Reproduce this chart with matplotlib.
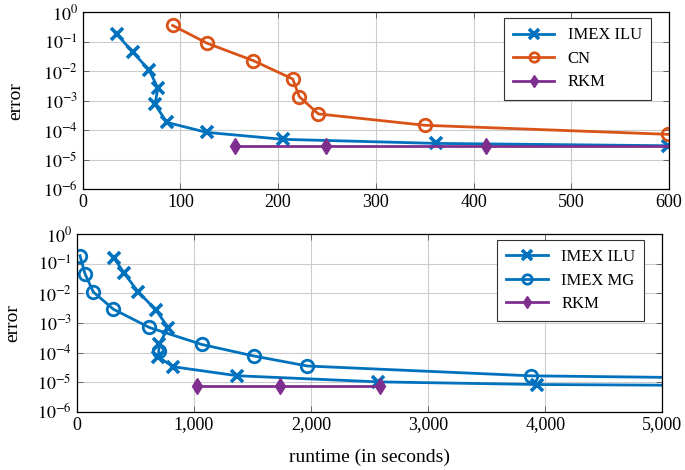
import math
import matplotlib
matplotlib.use("Agg")
import matplotlib.pyplot as plt
from matplotlib.ticker import FixedLocator, FuncFormatter, NullLocator

plt.rcParams['font.family'] = ['Liberation Serif', 'DejaVu Serif']
plt.rcParams['mathtext.fontset'] = 'stix'

BLUE = '#0072BD'
ORANGE = '#D95319'
PURPLE = '#7E2F8E'

# --- top panel data ---
top_ilu_t = [35, 51, 68, 77, 74, 86, 127, 205, 362, 599]
top_ilu_e = [0.18, 0.046, 0.011, 0.0027, 7.6e-4, 1.86e-4, 8.5e-5, 4.95e-5, 3.6e-5, 3.0e-5]
top_cn_t = [92, 127.5, 174.6, 215, 221.7, 241.2, 350.4, 599.4]
top_cn_e = [0.36, 0.089, 0.023, 0.0055, 0.00138, 3.6e-4, 1.48e-4, 7.3e-5]
top_rkm_t = [156, 249, 413, 650]
top_rkm_e = [2.9e-5, 2.9e-5, 2.9e-5, 2.9e-5]

# --- bottom panel data ---
bot_ilu_t = [321, 406, 526, 677, 782, 705, 697, 825, 1371, 2570, 3928, 5200]
bot_ilu_e = [0.15, 0.047, 0.011, 0.0027, 6.8e-4, 2.0e-4, 7.0e-5, 3.3e-5, 1.64e-5, 1.02e-5, 8.3e-6, 7.8e-6]
bot_mg_t = [28, 71, 142, 313, 620, 1067, 1514, 1969, 3879, 5200]
bot_mg_e = [0.185, 0.045, 0.011, 0.0029, 7.0e-4, 1.87e-4, 7.6e-5, 3.5e-5, 1.63e-5, 1.42e-5]
bot_mg_extra_t = [705]
bot_mg_extra_e = [1.14e-4]
bot_rkm_t = [1030, 1736, 2590]
bot_rkm_e = [7.6e-6, 7.6e-6, 7.6e-6]

top_xticks = [0, 100, 200, 300, 400, 500, 600]
bot_xticks = [0, 1000, 2000, 3000, 4000, 5000]
yticks = [1e-6, 1e-5, 1e-4, 1e-3, 1e-2, 1e-1, 1e0]

fig = plt.figure(figsize=(6.85, 4.7), dpi=100)
ax1 = fig.add_axes([0.1207, 0.5972, 0.9766 - 0.1207, 0.9738 - 0.5972])
ax2 = fig.add_axes([0.1120, 0.1240, 0.9669 - 0.1120, 0.5020 - 0.1240])

lw = 2.0
tick_fs = 13
label_fs = 14
leg_fs = 12

def style(ax, xlim, xticks, fmt, ylab_x):
    ax.set_yscale('log')
    ax.set_ylim(1e-6, 1e0)
    ax.set_xlim(*xlim)
    ax.yaxis.set_major_locator(FixedLocator(yticks))
    ax.yaxis.set_minor_locator(NullLocator())
    ax.xaxis.set_major_locator(FixedLocator(xticks))
    ax.xaxis.set_major_formatter(FuncFormatter(fmt))
    ax.yaxis.set_major_formatter(FuncFormatter(lambda v, p: r'$10^{%d}$' % round(math.log10(v))))
    ax.grid(True, color='#cccccc', linewidth=0.8)
    ax.set_axisbelow(True)
    ax.tick_params(direction='in', top=True, right=True, length=4, width=0.6,
                   labelsize=tick_fs, color='#555555')
    for s in ax.spines.values():
        s.set_linewidth(0.9)
    ax.set_ylabel('error', fontsize=label_fs)
    ax.yaxis.set_label_coords(ylab_x, 0.5)

ax1.plot(top_ilu_t, top_ilu_e, color=BLUE, lw=lw, marker='x', ms=9, mew=2.6, label='IMEX ILU')
ax1.plot(top_cn_t, top_cn_e, color=ORANGE, lw=lw, marker='o', ms=9, mew=2.0, mfc='none', label='CN')
ax1.plot(top_rkm_t, top_rkm_e, color=PURPLE, lw=lw, marker='d', ms=8.5, mew=1.0, label='RKM')
style(ax1, (0, 600), top_xticks, lambda v, p: '%d' % v, -0.100)

ax2.plot(bot_ilu_t, bot_ilu_e, color=BLUE, lw=lw, marker='x', ms=9, mew=2.6, label='IMEX ILU')
ax2.plot(bot_mg_t, bot_mg_e, color=BLUE, lw=lw, marker='o', ms=9, mew=2.0, mfc='none', label='IMEX MG')
ax2.plot(bot_mg_extra_t, bot_mg_extra_e, color=BLUE, lw=0, marker='o', ms=9, mew=2.0, mfc='none')
ax2.plot(bot_rkm_t, bot_rkm_e, color=PURPLE, lw=lw, marker='d', ms=8.5, mew=1.0, label='RKM')
style(ax2, (0, 5000), bot_xticks, lambda v, p: '{:,}'.format(int(v)), -0.095)
ax2.set_xlabel('runtime (in seconds)', fontsize=label_fs)
ax2.xaxis.set_label_coords(0.5, -0.21)

for ax in (ax1, ax2):
    leg = ax.legend(loc='upper right', bbox_to_anchor=(1 - 18 / 587, 1 - 6 / 177),
                    fontsize=leg_fs, frameon=True, fancybox=False, edgecolor='#333333',
                    framealpha=1, borderpad=0.55, handlelength=2.5, labelspacing=0.45,
                    markerscale=0.75, borderaxespad=0)
    leg.get_frame().set_linewidth(0.8)

fig.savefig('out.png', dpi=100)
